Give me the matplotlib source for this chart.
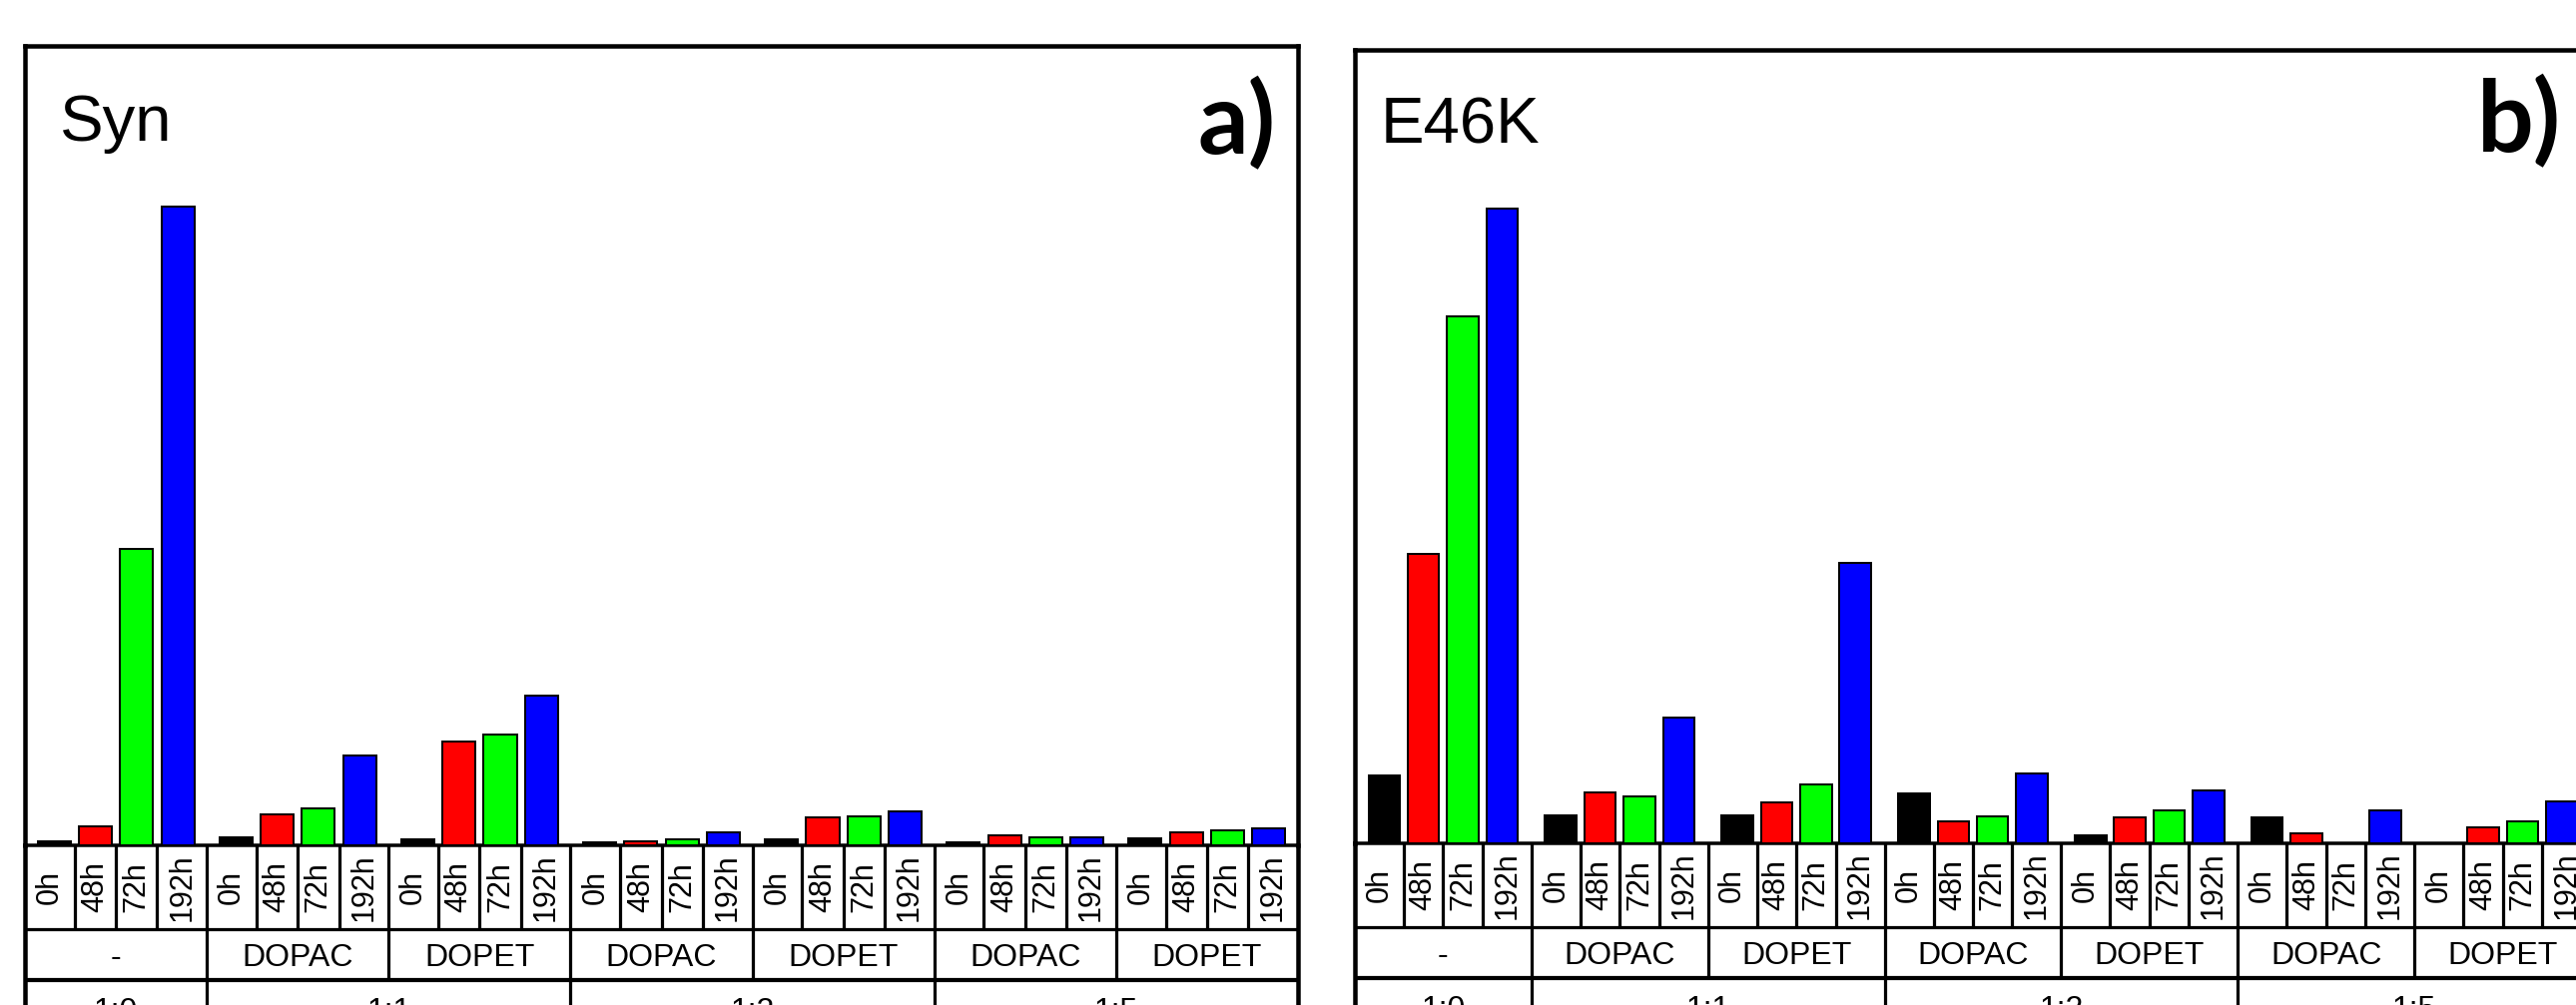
import matplotlib
matplotlib.use("Agg")
import matplotlib.pyplot as plt
import numpy as np

W, H = 2580, 1007

times = ["0h", "48h", "72h", "192h"]
additives = ["-", "DOPAC", "DOPET", "DOPAC", "DOPET", "DOPAC", "DOPET"]
ratios = ["1:0", "1:1", "1:2", "1:5"]
ratio_groups = [1, 2, 2, 2]
bar_colors = ["black", "#ff0000", "#00ff00", "#0000ff"]

# relative signal, one value per additive group
syn_0h = [0.7, 1.25, 0.9, 0.4, 0.9, 0.4, 1.05]
syn_48h = [3.0, 4.8, 16.3, 0.7, 4.4, 1.5, 2.1]
syn_72h = [46.4, 5.8, 17.3, 1.0, 4.5, 1.25, 2.4]
syn_192h = [100.0, 14.1, 23.4, 2.1, 5.3, 1.25, 2.7]

e46k_0h = [10.6, 4.3, 4.3, 7.8, 1.2, 4.0, 0.0]
e46k_48h = [45.3, 8.0, 6.4, 3.5, 4.0, 1.5, 2.5]
e46k_72h = [82.5, 7.4, 9.2, 4.2, 5.1, 0.0, 3.5]
e46k_192h = [99.4, 19.7, 43.9, 10.9, 8.3, 5.2, 6.6]

px = 0.72  # points per pixel at dpi 100


def box(l, t, r, b):
	return [l / W, 1 - b / H, (r - l) / W, (b - t) / H]


def draw_panel(fig, left, right, top, base, series, title, title_xy, letter, letter_xy, G):
	n = len(additives)
	m = (G - 3) / 2.0
	ax = fig.add_axes(box(left, top, right, base))
	ax.set_xlim(0, n * G)
	ax.set_ylim(0, (base - top) / 6.4)
	ax.set_xticks([])
	ax.set_yticks([])
	for s in ["top", "left", "right"]:
		ax.spines[s].set_linewidth(4.5 * px)
	ax.spines["bottom"].set_linewidth(3.5 * px)
	for i, vals in enumerate(series):
		x = np.arange(n) * G + m + i
		ax.bar(x, vals, width=0.8, color=bar_colors[i], edgecolor="black", linewidth=2 * px, zorder=3)

	# label table under the bars
	tb = fig.add_axes(box(left, base, right, base + 200))
	tb.set_xlim(0, n * G)
	tb.set_ylim(-200, 0)
	tb.set_xticks([])
	tb.set_yticks([])
	tb.patch.set_alpha(0)
	tb.spines["top"].set_visible(False)
	tb.spines["bottom"].set_visible(False)
	tb.spines["left"].set_linewidth(4.5 * px)
	tb.spines["right"].set_linewidth(4.5 * px)
	tb.hlines(-84, 0, n * G, color="black", lw=3.2 * px)
	tb.hlines(-135, 0, n * G, color="black", lw=4.2 * px)
	for g in range(n):
		g0 = g * G
		edges = [g0] + [g0 + m + i + 0.5 for i in range(3)] + [g0 + G]
		for e in edges[1:4]:
			tb.vlines(e, -84, 0, color="black", lw=3.2 * px)
		if g > 0:
			tb.vlines(g0, -135, 0, color="black", lw=3.2 * px)
		for i, t in enumerate(times):
			tb.text((edges[i] + edges[i + 1]) / 2, -42, t, rotation=90, ha="center", va="center",
				fontsize=22, family="Liberation Sans")
		tb.text(g0 + G / 2, -121, additives[g], ha="center", va="baseline", fontsize=23, family="Liberation Sans")
	start = 0
	for r, k in zip(ratios, ratio_groups):
		if start > 0:
			tb.vlines(start * G, -200, -135, color="black", lw=3.2 * px)
		tb.text((start + k / 2) * G, -175, r, ha="center", va="baseline", fontsize=23, family="Liberation Sans")
		start += k

	fig.text(title_xy[0] / W, 1 - title_xy[1] / H, title, ha="left", va="baseline",
		fontsize=47, family="Liberation Sans")
	fig.text(letter_xy[0] / W, 1 - letter_xy[1] / H, letter, ha="right", va="baseline",
		fontsize=72, fontweight="bold", family="Lato")


fig = plt.figure(figsize=(W / 100, H / 100), dpi=100, facecolor="white")

draw_panel(fig, 25, 1300, 46, 847, [syn_0h, syn_48h, syn_72h, syn_192h],
	"Syn", (60, 141), "a)", (1278, 154), 4.41)
draw_panel(fig, 1357, 2595, 50, 845, [e46k_0h, e46k_48h, e46k_72h, e46k_192h],
	"E46K", (1383, 143), "b)", (2565, 152), 4.49)

fig.savefig("out.png", dpi=100, facecolor="white")
